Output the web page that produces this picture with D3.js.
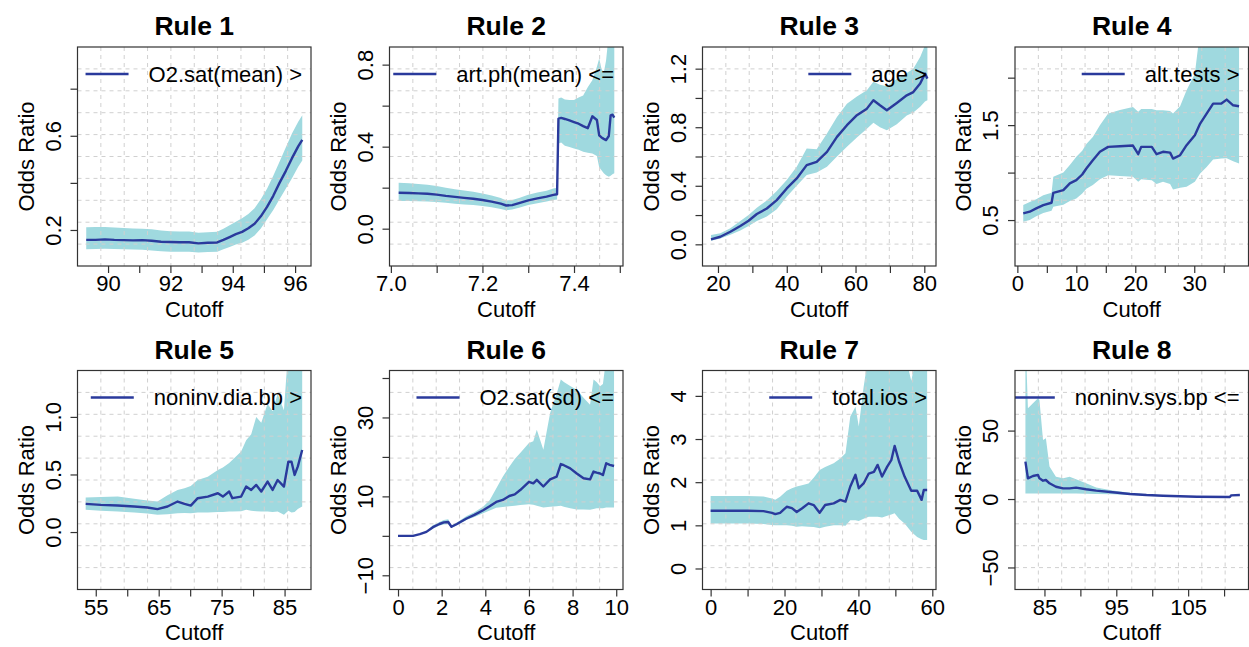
<!DOCTYPE html>
<html>
<head>
<meta charset="utf-8">
<script src="https://cdn.jsdelivr.net/npm/d3@7"></script>
<style>
  html, body { margin: 0; padding: 0; background: #ffffff; }
  svg text { font-family: "Liberation Sans", Arial, Helvetica, sans-serif; fill: #000; }
</style>
</head>
<body>
<svg id="chart" width="1249" height="647"></svg>
<script>
// ---- Rule titles and legend labels ----
const ruleTitles = ["Rule 1", "Rule 2", "Rule 3", "Rule 4", "Rule 5", "Rule 6", "Rule 7", "Rule 8"];
const ruleVariables = ["O2.sat(mean) >", "art.ph(mean) <=", "age >", "alt.tests >",
                       "noninv.dia.bp >", "O2.sat(sd) <=", "total.ios >", "noninv.sys.bp <="];

// ---- Axis limits (x, y) ----
const xLimits = [[89.02, 96.51], [6.997, 7.507], [15.5, 83.4], [-0.4, 39.2],
                 [52.1, 89.2], [-0.39, 10.31], [-2.2, 61.0], [80.9, 113.4]];
const yLimits = [[0.047, 0.977], [-0.182, 0.886], [-0.148, 1.348], [0.016, 2.323],
                 [-0.499, 1.403], [-13.6, 41.9], [-0.487, 4.588], [-66.1, 93.9]];

// ---- Tick values and their labels ("" = tick without label) ----
const xTickValues = [
  [90, 91, 92, 93, 94, 95, 96],
  [7.0, 7.1, 7.2, 7.3, 7.4, 7.5],
  [20, 30, 40, 50, 60, 70, 80],
  [0, 5, 10, 15, 20, 25, 30, 35],
  [55, 60, 65, 70, 75, 80, 85],
  [0, 2, 4, 6, 8, 10],
  [0, 10, 20, 30, 40, 50, 60],
  [85, 90, 95, 100, 105, 110]
];
const xTickLabels = [
  ["90", "", "92", "", "94", "", "96"],
  ["7.0", "", "7.2", "", "7.4", ""],
  ["20", "", "40", "", "60", "", "80"],
  ["0", "", "10", "", "20", "", "30", ""],
  ["55", "", "65", "", "75", "", "85"],
  ["0", "2", "4", "6", "8", "10"],
  ["0", "", "20", "", "40", "", "60"],
  ["85", "", "95", "", "105", ""]
];
const yTickValues = [
  [0.2, 0.4, 0.6, 0.8],
  [0.0, 0.2, 0.4, 0.6, 0.8],
  [0.0, 0.2, 0.4, 0.6, 0.8, 1.0, 1.2],
  [0.5, 1.0, 1.5, 2.0],
  [0.0, 0.5, 1.0],
  [-10, 0, 10, 20, 30, 40],
  [0, 1, 2, 3, 4],
  [-50, 0, 50]
];
const yTickLabels = [
  ["0.2", "", "0.6", ""],
  ["0.0", "", "0.4", "", "0.8"],
  ["0.0", "", "0.4", "", "0.8", "", "1.2"],
  ["0.5", "", "1.5", ""],
  ["0.0", "0.5", "1.0"],
  ["\u221210", "", "10", "", "30", ""],
  ["0", "1", "2", "3", "4"],
  ["\u221250", "0", "50"]
];

// ---- Odds ratio by cutoff, with confidence band ----
const r1Cutoff = [89.3, 89.6, 89.9, 90.2, 90.5, 90.8, 91.1, 91.4, 91.7, 92.0, 92.3, 92.6, 92.9, 93.2, 93.5, 93.7, 93.9, 94.1, 94.3, 94.5, 94.7, 94.9, 95.1, 95.3, 95.5, 95.7, 95.9, 96.1, 96.23];
const r1Odds   = [0.158, 0.158, 0.160, 0.158, 0.157, 0.156, 0.157, 0.154, 0.150, 0.149, 0.148, 0.148, 0.143, 0.146, 0.147, 0.158, 0.170, 0.182, 0.192, 0.207, 0.226, 0.258, 0.298, 0.345, 0.400, 0.450, 0.505, 0.555, 0.583];
const r1Lower  = [0.118, 0.119, 0.120, 0.119, 0.118, 0.117, 0.116, 0.113, 0.110, 0.108, 0.107, 0.107, 0.104, 0.106, 0.108, 0.118, 0.128, 0.138, 0.146, 0.158, 0.176, 0.206, 0.245, 0.285, 0.330, 0.375, 0.420, 0.468, 0.495];
const r1Upper  = [0.212, 0.213, 0.213, 0.210, 0.208, 0.206, 0.205, 0.203, 0.198, 0.195, 0.194, 0.194, 0.188, 0.190, 0.192, 0.205, 0.220, 0.235, 0.250, 0.268, 0.292, 0.330, 0.375, 0.430, 0.490, 0.550, 0.610, 0.660, 0.687];

const r2Cutoff = [7.017, 7.04, 7.06, 7.08, 7.10, 7.12, 7.14, 7.16, 7.18, 7.20, 7.22, 7.24, 7.252, 7.265, 7.28, 7.30, 7.32, 7.34, 7.355, 7.363,
                  7.366, 7.372, 7.38, 7.39, 7.40, 7.41, 7.42, 7.43, 7.44, 7.45, 7.455, 7.46, 7.465, 7.47, 7.476, 7.48, 7.484, 7.488];
const r2Odds   = [0.175, 0.174, 0.172, 0.170, 0.166, 0.160, 0.155, 0.150, 0.146, 0.140, 0.132, 0.122, 0.113, 0.115, 0.125, 0.138, 0.148, 0.156, 0.165, 0.168,
                  0.537, 0.540, 0.535, 0.528, 0.520, 0.512, 0.500, 0.490, 0.548, 0.530, 0.455, 0.445, 0.438, 0.432, 0.452, 0.553, 0.556, 0.542];
const r2Lower  = [0.135, 0.135, 0.134, 0.133, 0.130, 0.126, 0.122, 0.118, 0.115, 0.110, 0.104, 0.096, 0.090, 0.093, 0.102, 0.115, 0.124, 0.132, 0.140, 0.142,
                  0.416, 0.420, 0.405, 0.398, 0.391, 0.385, 0.375, 0.370, 0.367, 0.355, 0.300, 0.285, 0.270, 0.260, 0.253, 0.258, 0.265, 0.270];
const r2Upper  = [0.224, 0.222, 0.218, 0.214, 0.208, 0.200, 0.192, 0.186, 0.180, 0.172, 0.162, 0.150, 0.138, 0.140, 0.150, 0.165, 0.176, 0.185, 0.196, 0.199,
                  0.635, 0.640, 0.630, 0.628, 0.627, 0.640, 0.650, 0.690, 0.724, 0.790, 0.830, 0.780, 0.760, 0.820, 0.950, 1.000, 1.000, 1.000];

const r3Cutoff = [17.97, 20.7, 23.6, 26.5, 28.9, 31.3, 34.2, 37.1, 40.0, 42.9, 45.8, 48.7, 51.7, 54.6, 57.5, 60.4, 63.3, 65.2, 67.1, 69.1, 72.0, 74.9, 76.8, 78.8, 80.2, 80.9];
const r3Odds   = [0.034, 0.052, 0.086, 0.125, 0.161, 0.207, 0.245, 0.302, 0.382, 0.450, 0.541, 0.564, 0.632, 0.734, 0.814, 0.882, 0.927, 0.984, 0.950, 0.916, 0.966, 1.018, 1.040, 1.098, 1.166, 1.132];
const r3Lower  = [0.025, 0.040, 0.065, 0.095, 0.125, 0.160, 0.190, 0.240, 0.325, 0.400, 0.473, 0.490, 0.530, 0.600, 0.666, 0.730, 0.790, 0.830, 0.800, 0.780, 0.820, 0.880, 0.900, 0.940, 0.975, 0.984];
const r3Upper  = [0.064, 0.075, 0.110, 0.160, 0.200, 0.250, 0.300, 0.365, 0.440, 0.530, 0.655, 0.650, 0.757, 0.870, 0.961, 1.010, 1.052, 1.110, 1.090, 1.080, 1.130, 1.170, 1.200, 1.280, 1.360, 1.450];

const r4Cutoff = [1.0, 2.1, 3.2, 4.4, 5.8, 6.1, 7.8, 8.9, 10.0, 11.0, 11.7, 12.8, 14.0, 15.4, 17.4, 19.6, 20.5, 21.0, 22.8, 23.6, 24.7, 25.9, 26.4, 27.6, 28.7, 30.1, 31.0, 32.1, 33.2, 34.6, 35.5, 36.6, 37.6];
const r4Odds   = [0.570, 0.588, 0.623, 0.658, 0.682, 0.787, 0.815, 0.886, 0.920, 0.980, 1.043, 1.130, 1.219, 1.271, 1.278, 1.285, 1.194, 1.271, 1.271, 1.194, 1.219, 1.210, 1.148, 1.183, 1.289, 1.394, 1.516, 1.622, 1.727, 1.727, 1.769, 1.709, 1.699];
const r4Lower  = [0.482, 0.500, 0.540, 0.575, 0.598, 0.640, 0.660, 0.700, 0.728, 0.780, 0.830, 0.868, 0.930, 0.973, 0.965, 0.956, 0.903, 0.930, 0.920, 0.880, 0.903, 0.880, 0.822, 0.840, 0.850, 0.903, 0.991, 1.060, 1.138, 1.148, 1.150, 1.120, 1.096];
const r4Upper  = [0.658, 0.690, 0.720, 0.760, 0.787, 0.956, 1.000, 1.080, 1.166, 1.230, 1.300, 1.376, 1.500, 1.622, 1.660, 1.692, 1.640, 1.670, 1.670, 1.657, 1.657, 1.650, 1.622, 1.700, 1.867, 2.042, 2.500, 2.600, 2.600, 2.600, 2.600, 2.600, 2.600];

const r5Cutoff = [53.4, 55.8, 58.5, 61.1, 63.2, 64.8, 66.4, 68.0, 69.1, 70.1, 71.2, 72.8, 74.4, 75.2, 76.2, 76.7, 78.1, 78.9, 79.7, 80.5, 81.3, 82.3, 83.1, 83.9, 84.9, 85.6, 86.1, 86.6, 87.1, 87.8];
const r5Odds   = [0.245, 0.236, 0.230, 0.222, 0.213, 0.199, 0.222, 0.265, 0.245, 0.230, 0.294, 0.308, 0.337, 0.308, 0.352, 0.294, 0.308, 0.395, 0.366, 0.409, 0.352, 0.438, 0.366, 0.452, 0.395, 0.611, 0.611, 0.496, 0.568, 0.712];
const r5Lower  = [0.193, 0.185, 0.179, 0.170, 0.160, 0.150, 0.155, 0.164, 0.165, 0.164, 0.170, 0.170, 0.175, 0.175, 0.178, 0.178, 0.180, 0.193, 0.185, 0.180, 0.178, 0.178, 0.175, 0.178, 0.150, 0.185, 0.170, 0.175, 0.200, 0.222];
const r5Upper  = [0.300, 0.305, 0.308, 0.290, 0.275, 0.265, 0.320, 0.366, 0.380, 0.400, 0.452, 0.480, 0.539, 0.560, 0.600, 0.625, 0.700, 0.798, 0.850, 1.000, 0.950, 1.115, 1.050, 1.200, 1.058, 1.600, 1.600, 1.600, 1.600, 1.600];

const r6Cutoff = [0, 0.69, 1.0, 1.3, 1.6, 1.9, 2.1, 2.3, 2.45, 2.7, 3.14, 3.5, 3.9, 4.2, 4.5, 4.8, 5.1, 5.35, 5.6, 6.0, 6.2, 6.36, 6.66, 6.97, 7.27, 7.46, 7.6, 7.89, 8.19, 8.5, 8.8, 8.96, 9.1, 9.26, 9.39, 9.54, 9.7, 9.9];
const r6Odds   = [0, 0, 0.42, 1.0, 2.2, 3.0, 3.4, 3.5, 2.3, 3.0, 4.4, 5.3, 6.5, 7.5, 8.6, 9.1, 10.1, 10.5, 11.6, 13.7, 13.3, 14.2, 12.5, 14.3, 15.0, 18.2, 17.9, 17.1, 15.8, 14.6, 14.3, 16.3, 16.0, 15.8, 15.4, 18.4, 18.0, 17.7];
const r6Lower  = [0, 0, 0.35, 0.8, 1.8, 2.6, 2.9, 3.0, 2.0, 2.7, 4.0, 4.8, 5.7, 6.4, 7.1, 7.3, 7.5, 7.6, 7.8, 8.0, 7.9, 7.6, 7.2, 7.4, 7.5, 7.6, 7.4, 7.0, 6.7, 6.7, 6.6, 6.8, 7.0, 7.0, 7.0, 7.2, 7.2, 7.2];
const r6Upper  = [0, 0, 0.5, 1.2, 2.7, 3.5, 4.0, 4.2, 2.6, 3.4, 5.0, 6.0, 7.4, 9.0, 12.0, 15.0, 17.5, 19.5, 21.0, 23.5, 24.0, 26.9, 21.8, 31.1, 36.0, 39.6, 39.0, 38.0, 37.0, 35.0, 33.2, 39.6, 39.0, 37.9, 38.5, 45.0, 45.0, 45.0];

const r7Cutoff = [0, 5, 10, 14.3, 16.6, 17.5, 18.8, 20.6, 22.0, 23.3, 24.7, 26.5, 27.9, 29.5, 31.0, 33.3, 35.1, 36.5, 37.8, 39.2, 40.1, 41.4, 42.8, 44.2, 45.2, 46.4, 47.8, 48.9, 49.8, 51.0, 52.5, 54.3, 55.9, 57.1, 57.7, 58.6];
const r7Odds   = [1.338, 1.338, 1.338, 1.330, 1.290, 1.260, 1.290, 1.430, 1.400, 1.310, 1.390, 1.510, 1.470, 1.290, 1.470, 1.510, 1.590, 1.550, 1.900, 2.170, 1.860, 1.970, 2.200, 2.240, 2.400, 2.130, 2.360, 2.510, 2.840, 2.480, 2.130, 1.800, 1.800, 1.590, 1.820, 1.820];
const r7Lower  = [1.040, 1.040, 1.040, 1.030, 1.010, 1.000, 1.000, 1.000, 0.990, 0.970, 0.980, 0.970, 0.960, 0.930, 0.970, 1.000, 1.000, 0.990, 1.120, 1.120, 1.100, 1.150, 1.200, 1.200, 1.200, 1.180, 1.220, 1.250, 1.280, 1.150, 1.040, 0.850, 0.730, 0.680, 0.660, 0.660];
const r7Upper  = [1.680, 1.680, 1.680, 1.670, 1.620, 1.590, 1.660, 1.800, 1.860, 1.900, 1.930, 1.970, 2.100, 2.280, 2.350, 2.440, 2.550, 2.670, 3.520, 3.750, 3.290, 4.200, 5.000, 5.000, 5.000, 5.000, 5.000, 5.000, 5.000, 5.000, 5.000, 4.350, 5.000, 5.000, 5.000, 5.000];

const r8Cutoff = [82.35, 82.7, 83.4, 84.1, 84.3, 84.8, 85.2, 85.7, 86.6, 87.6, 88.5, 89.4, 90.8, 92.2, 94.5, 96.9, 99.2, 101.5, 106.2, 110.8, 111.0, 112.2];
const r8Odds   = [27.3, 15.1, 16.8, 17.6, 15.1, 13.4, 13.9, 11.5, 9.0, 7.8, 7.8, 8.3, 7.1, 6.1, 4.9, 3.7, 2.9, 2.4, 1.7, 1.5, 2.7, 2.9];
const r8Lower  = [4.1, 4.1, 4.1, 4.1, 4.1, 4.1, 4.1, 4.1, 4.1, 4.1, 4.1, 4.0, 3.9, 3.7, 3.4, 3.0, 2.5, 2.1, 1.5, 1.3, 2.3, 2.5];
const r8Upper  = [120, 66.3, 70.0, 73.7, 72.4, 43.2, 44.4, 23.7, 16.3, 15.1, 16.3, 14.4, 11.5, 8.5, 6.2, 4.6, 3.4, 2.8, 1.9, 1.7, 3.1, 3.3];

const cutoffs = [r1Cutoff, r2Cutoff, r3Cutoff, r4Cutoff, r5Cutoff, r6Cutoff, r7Cutoff, r8Cutoff];
const odds    = [r1Odds, r2Odds, r3Odds, r4Odds, r5Odds, r6Odds, r7Odds, r8Odds];
const lowers  = [r1Lower, r2Lower, r3Lower, r4Lower, r5Lower, r6Lower, r7Lower, r8Lower];
const uppers  = [r1Upper, r2Upper, r3Upper, r4Upper, r5Upper, r6Upper, r7Upper, r8Upper];

// ---- Layout: 2 x 4 grid of plot boxes ----
const colLeft = [77.5, 389.5, 702.5, 1015];
const rowTop = [47, 370.5];
const plotW = 233.5, plotH = 219;
const bandColor = "#9fd9df";
const lineColor = "#2a3a9c";
const gridColor = "#d0d0d0";
const axisColor = "#333333";
const fontSize = 22;

const svg = d3.select("#chart");
svg.append("rect").attr("width", 1249).attr("height", 647).attr("fill", "#fff");

ruleTitles.forEach((title, i) => {
  const col = i % 4, row = Math.floor(i / 4);
  const g = svg.append("g").attr("transform", `translate(${colLeft[col]},${rowTop[row]})`);
  const x = d3.scaleLinear().domain(xLimits[i]).range([0, plotW]);
  const y = d3.scaleLinear().domain(yLimits[i]).range([plotH, 0]);

  const clipId = "clip" + i;
  g.append("clipPath").attr("id", clipId)
    .append("rect").attr("width", plotW).attr("height", plotH);

  const rows = cutoffs[i].map((c, k) => ({ c, or: odds[i][k], lo: lowers[i][k], hi: uppers[i][k] }));
  const plot = g.append("g").attr("clip-path", `url(#${clipId})`);

  // confidence band
  plot.append("path").datum(rows)
    .attr("fill", bandColor)
    .attr("d", d3.area().x(d => x(d.c)).y0(d => y(d.lo)).y1(d => y(d.hi)));

  // dashed grid: 10 equal divisions each way
  const xd = xLimits[i], yd = yLimits[i];
  const gx = d3.range(1, 10).map(k => xd[0] + k * (xd[1] - xd[0]) / 10);
  const gy = d3.range(1, 10).map(k => yd[0] + k * (yd[1] - yd[0]) / 10);
  plot.selectAll(".gx").data(gx).enter().append("line")
    .attr("x1", d => x(d)).attr("x2", d => x(d)).attr("y1", 0).attr("y2", plotH)
    .attr("stroke", gridColor).attr("stroke-width", 1).attr("stroke-dasharray", "4,4");
  plot.selectAll(".gy").data(gy).enter().append("line")
    .attr("y1", d => y(d)).attr("y2", d => y(d)).attr("x1", 0).attr("x2", plotW)
    .attr("stroke", gridColor).attr("stroke-width", 1).attr("stroke-dasharray", "4,4");

  // odds ratio line
  plot.append("path").datum(rows)
    .attr("fill", "none").attr("stroke", lineColor).attr("stroke-width", 2.4)
    .attr("stroke-linejoin", "round")
    .attr("d", d3.line().x(d => x(d.c)).y(d => y(d.or)));

  // frame
  g.append("rect").attr("width", plotW).attr("height", plotH)
    .attr("fill", "none").attr("stroke", axisColor).attr("stroke-width", 1.2);

  // x axis
  const xl = xTickLabels[i];
  const xAxis = d3.axisBottom(x).tickValues(xTickValues[i]).tickSize(7).tickPadding(3)
    .tickFormat((d, k) => xl[k]);
  const xg = g.append("g").attr("transform", `translate(0,${plotH})`).call(xAxis);
  xg.select(".domain").remove();
  xg.selectAll(".tick line").attr("stroke", axisColor).attr("stroke-width", 1.2);
  xg.selectAll(".tick text").attr("font-size", fontSize).attr("fill", "#000")
    .attr("font-family", "Liberation Sans, Arial, sans-serif")
    .attr("y", 25).attr("dy", 0);

  // y axis with labels parallel to the axis
  const yl = yTickLabels[i];
  const yAxis = d3.axisLeft(y).tickValues(yTickValues[i]).tickSize(7)
    .tickFormat((d, k) => yl[k]);
  const yg = g.append("g").call(yAxis);
  yg.select(".domain").remove();
  yg.selectAll(".tick line").attr("stroke", axisColor).attr("stroke-width", 1.2);
  yg.selectAll(".tick text").attr("font-size", fontSize).attr("fill", "#000")
    .attr("font-family", "Liberation Sans, Arial, sans-serif")
    .attr("text-anchor", "middle").attr("transform", "rotate(-90)")
    .attr("x", 0).attr("y", -17).attr("dy", 0);

  // axis titles
  g.append("text").attr("x", plotW / 2).attr("y", plotH + 50.5)
    .attr("text-anchor", "middle").attr("font-size", fontSize).text("Cutoff");
  g.append("text").attr("transform", `translate(-44,${plotH / 2}) rotate(-90)`)
    .attr("text-anchor", "middle").attr("font-size", fontSize).text("Odds Ratio");

  // panel title
  g.append("text").attr("x", plotW / 2).attr("y", -12)
    .attr("text-anchor", "middle").attr("font-size", 26.5).attr("font-weight", "bold")
    .text(title);

  // legend (top right, clipped to the plot area)
  const legText = g.append("text").attr("x", plotW - 9).attr("y", 27).attr("dy", "0.35em")
    .attr("text-anchor", "end").attr("font-size", fontSize).text(ruleVariables[i]);
  const textStart = plotW - 9 - legText.node().getComputedTextLength();
  plot.append("line")
    .attr("x1", textStart - 20 - 43).attr("x2", textStart - 20)
    .attr("y1", 27).attr("y2", 27)
    .attr("stroke", lineColor).attr("stroke-width", 2.4);
});
</script>
</body>
</html>
